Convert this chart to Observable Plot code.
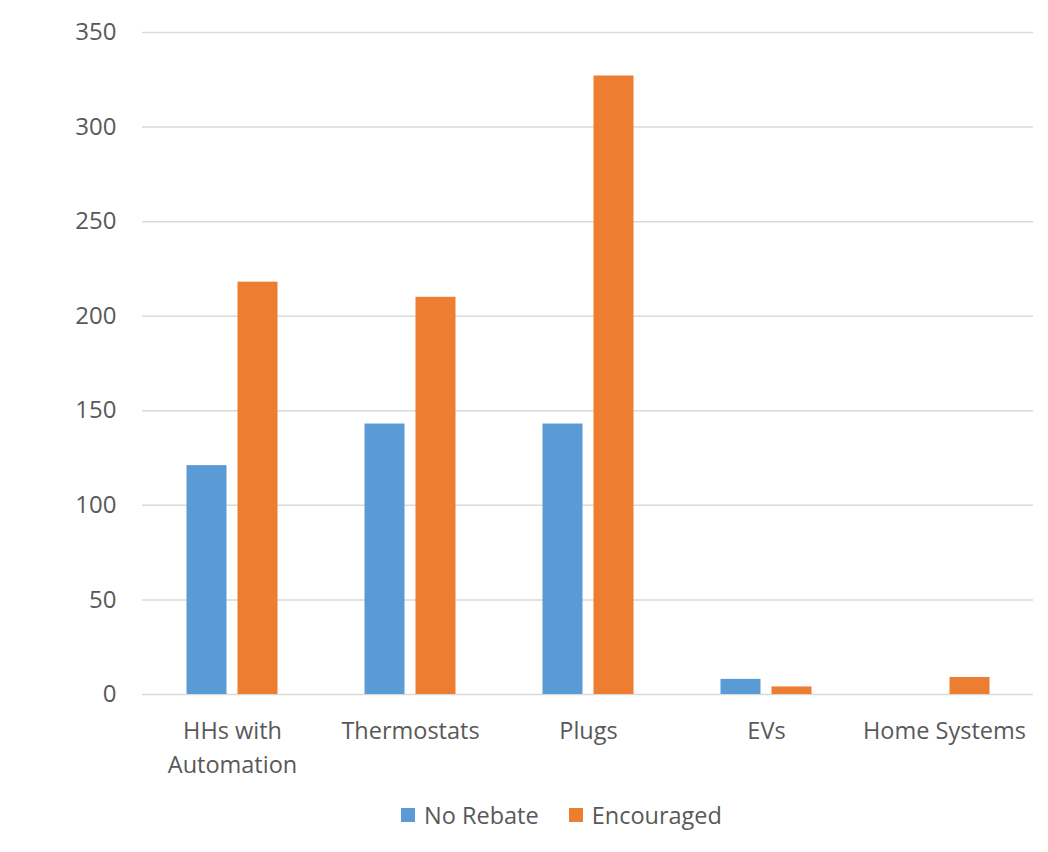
<!DOCTYPE html>
<html>
<head>
<meta charset="utf-8">
<script src="https://cdn.jsdelivr.net/npm/d3@7"></script>
<script src="https://cdn.jsdelivr.net/npm/@observablehq/plot@0.6"></script>
<style>
  body { margin: 0; background: #fff; font-family: "Open Sans", sans-serif; }
  #legend { display: flex; align-items: center; height: 30px; margin-top: 10px; padding-left: 401px; color: #595959; font-size: 23.5px; }
  #legend .item { display: flex; align-items: center; margin-right: 30px; }
  #legend .sw { width: 14px; height: 14px; margin-right: 9px; }
</style>
</head>
<body>
<div id="chart"></div>
<div id="legend"></div>
<script>
const categories = ["HHs with Automation", "Thermostats", "Plugs", "EVs", "Home Systems"];
const categoryLabels = ["HHs with\nAutomation", "Thermostats", "Plugs", "EVs", "Home Systems"];
const noRebate = [121, 143, 143, 8, 0];
const encouraged = [218, 210, 327, 4, 9];
const series = ["No Rebate", "Encouraged"];
const colors = ["#5B9BD5", "#ED7D31"];
const yTicks = [0, 50, 100, 150, 200, 250, 300, 350];

const nrData = categories.map((c, i) => ({category: c, series: series[0], value: noRebate[i]}));
const encData = categories.map((c, i) => ({category: c, series: series[1], value: encouraged[i]}));

const chart = Plot.plot({
  width: 1048,
  height: 790,
  marginLeft: 142,
  marginRight: 15,
  marginTop: 32,
  marginBottom: 96,
  style: {fontFamily: "Open Sans", fontSize: "24px", color: "#595959", background: "#fff"},
  x: {domain: categories, padding: 0, label: null, axis: null},
  y: {domain: [0, 350], ticks: yTicks, label: null, tickSize: 0, tickPadding: 26},
  color: {domain: series, range: colors},
  marks: [
    Plot.ruleY(yTicks, {stroke: "#d9d9d9", strokeWidth: 1.5}),
    Plot.barY(nrData, {x: "category", y: "value", fill: "series", insetLeft: 43.5, insetRight: 94.5}),
    Plot.barY(encData, {x: "category", y: "value", fill: "series", insetLeft: 94.5, insetRight: 43.5}),
    Plot.axisX({tickSize: 0, tickPadding: 20, lineHeight: 1.45, fontSize: 23.5, label: null,
      tickFormat: d => categoryLabels[categories.indexOf(d)]})
  ]
});
document.getElementById("chart").appendChild(chart);

const legend = document.getElementById("legend");
series.forEach((s, i) => {
  const item = document.createElement("div");
  item.className = "item";
  const sw = document.createElement("div");
  sw.className = "sw";
  sw.style.background = colors[i];
  const label = document.createElement("span");
  label.textContent = s;
  item.appendChild(sw);
  item.appendChild(label);
  legend.appendChild(item);
});
</script>
</body>
</html>
